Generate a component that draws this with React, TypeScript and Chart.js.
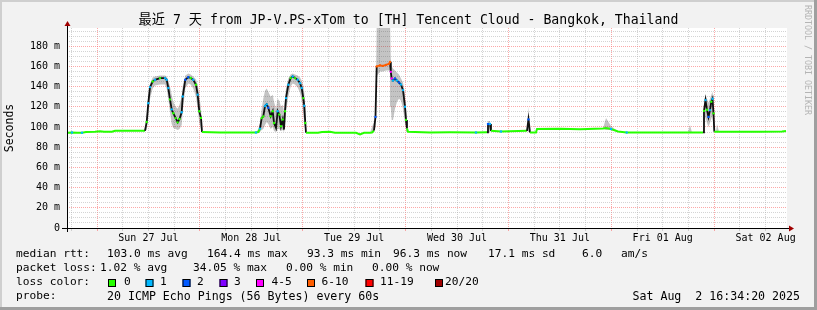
import React, { useEffect, useRef } from 'react';
import { Chart, registerables } from 'chart.js';

Chart.register(...registerables);

const TITLE = '最近 7 天 from JP-V.PS-xTom to [TH] Tencent Cloud - Bangkok, Thailand';
const Y_TITLE = 'Seconds';
const WATERMARK = 'RRDTOOL / TOBI OETIKER';

// x axis: hours since Sat 26 Jul 00:00
const X_MIN = 17;
const X_MAX = 185;
const DAY_LABELS = ['Sun 27 Jul', 'Mon 28 Jul', 'Tue 29 Jul', 'Wed 30 Jul', 'Thu 31 Jul', 'Fri 01 Aug', 'Sat 02 Aug'];
const Y_MAX = 198;
const Y_LABELED = [0, 20, 40, 60, 80, 100, 120, 140, 160, 180];

const HOURS = [
  17.0, 18.17, 19.33, 20.5, 21.43, 23.53, 24.7, 25.63, 27.5, 28.2, 35.2,
  35.6, 35.97, 36.37, 36.99, 37.53, 38.7, 39.87, 40.26, 40.64, 41.03, 41.43, 41.8, 42.36, 42.83, 43.25, 43.76, 44.0, 44.6, 45.3, 45.86, 46.46, 47.1, 47.49, 47.87, 48.27, 48.5,
  52.7, 57.37, 61.1, 61.64,
  62.03, 62.43, 62.8, 63.2, 63.6, 63.97, 64.53, 65.0, 65.3, 65.77, 66.16, 66.54, 66.93, 67.33, 67.63, 67.87, 68.1, 68.64, 69.19, 69.66, 70.2, 70.83, 71.37, 71.76, 72.14, 72.37, 72.6, 72.77,
  75.57, 76.5, 78.37, 79.53, 84.43, 85.37, 86.3, 87.7, 88.17, 88.63, 88.98,
  89.26, 90.03, 90.73, 91.43, 92.13, 92.37, 92.55, 92.76, 93.07, 93.53, 94.0, 94.47, 94.93, 95.4, 95.87, 96.1, 96.33, 96.57,
  101.7, 106.37, 112.43, 115.0, 115.23, 115.7, 115.93, 118.27, 124.33, 124.68, 125.03, 126.43, 126.67, 132.03, 136.7, 142.07, 142.77, 143.93, 145.57, 147.59, 153.03, 161.9, 162.37, 162.83, 165.4,
  165.63, 165.98, 166.33, 166.68, 167.03, 167.34, 167.62, 167.85, 168.04, 168.43, 168.67, 169.13, 178.7, 183.83, 184.77,
];

const MEDIAN = [
  94.3, 94.5, 94.3, 94.3, 95.0, 95.2, 95.8, 95.2, 95.3, 96.3, 96.3,
  105, 123.6, 139.5, 145, 146.7, 148.4, 148.4, 146.7, 138.6, 127.3, 117.4, 113.6, 108.8, 104.6, 108, 114.6, 130.2, 146.7, 149.3, 148.5, 146.7, 141.8, 132, 115.6, 109, 95,
  94.5, 94.5, 94.6, 95,
  98.4, 108.8, 110.5, 120.8, 122.4, 119.1, 110.6, 115.6, 104, 99.2, 115.6, 112.3, 100.7, 107.4, 97.5, 115.6, 128.6, 141.8, 148.4, 150, 148.4, 146.7, 143.4, 138.6, 128.6, 121, 104, 94.3,
  94.3, 95.0, 95.2, 94.3, 94.3, 92.7, 94.3, 94.4, 94.5, 96.5, 110,
  160, 161, 160.5, 161.5, 162.5, 164.4, 154.6, 148, 146, 148, 146, 144, 142, 136.5, 120, 107, 98.6, 95.3,
  94.6, 94.8, 94.6, 94.8, 103, 103, 96.2, 95.5, 96.2, 107.5, 94.6, 94.6, 98, 98.3, 97.8, 98.5, 99, 98, 95.5, 94.6, 94.6, 94.6, 94.6, 94.6, 94.6,
  116, 126.6, 117, 110, 116.7, 125, 128, 113.5, 95.3, 95.3, 95.3, 95.3, 95.3, 95.5, 96,
];

// index into LOSS_COLORS
const LOSS = [
  0, 1, 0, 1, 0, 0, 0, 0, 0, 0, 0,
  0, 1, 1, 0, 1, 0, 1, 1, 1, 0, 1, 0, 0, 0, 0, 1, 1, 2, 2, 0, 1, 0, 1, 0, 0, 0,
  0, 0, 1, 0,
  1, 0, 0, 1, 1, 2, 0, 0, 0, 0, 1, 0, 0, 0, 0, 0, 1, 1, 0, 1, 0, 1, 1, 1, 0, 1, 0, 0,
  0, 0, 0, 0, 0, 0, 0, 0, 0, 0, 2,
  5, 5, 5, 5, 5, 5, 4, 4, 1, 2, 1, 2, 1, 1, 1, 0, 0, 0,
  0, 0, 1, 0, 2, 1, 0, 1, 0, 2, 0, 0, 0, 0, 0, 0, 0, 1, 0, 1, 0, 0, 0, 0, 0,
  0, 1, 0, 2, 1, 0, 1, 0, 0, 0, 0, 0, 0, 0, 0,
];

const SMOKE_HI = [
  94.3, 94.5, 94.3, 94.3, 95.0, 95.2, 95.8, 95.2, 95.3, 96.3, 96.3,
  108, 128, 143, 149, 150, 151, 151, 150, 146, 140, 132, 125, 120, 118, 122, 130, 140, 151, 153, 152, 150, 147, 142, 132, 118, 95,
  94.5, 94.5, 94.6, 98,
  104, 118, 128, 136, 138, 135, 130, 132, 125, 118, 128, 126, 120, 122, 115, 128, 138, 148, 152, 153, 152, 151, 149, 146, 141, 134, 118, 94.3,
  94.3, 95.0, 95.2, 94.3, 94.3, 92.7, 94.3, 94.4, 100, 105, 112,
  200, 205, 205, 205, 205, 205, 168, 160, 158, 156, 154, 152, 148, 144, 132, 118, 104, 95.3,
  94.6, 94.8, 94.6, 94.8, 106, 106, 96.2, 95.5, 96.2, 120, 94.6, 94.6, 98, 98.3, 97.8, 98.5, 109, 101, 95.5, 94.6, 94.6, 94.6, 102, 94.6, 94.6,
  122, 132, 128, 124, 128, 132, 135, 126, 95.3, 95.3, 103, 95.3, 95.3, 95.5, 96,
];

const SMOKE_LO = [
  94.3, 94.5, 94.3, 94.3, 95.0, 95.2, 95.8, 95.2, 95.3, 96.3, 96.3,
  97, 110, 128, 138, 141, 142, 142, 138, 128, 115, 103, 99, 98, 97, 98, 102, 115, 138, 143, 142, 138, 130, 118, 104, 98, 95,
  94.5, 94.5, 94.6, 94,
  95, 97, 98, 102, 105, 103, 98, 100, 96, 95, 98, 98, 96, 97, 95, 100, 115, 130, 140, 143, 142, 139, 134, 126, 112, 104, 96, 94.3,
  94.3, 95.0, 95.2, 94.3, 94.3, 92.7, 94.3, 94.4, 94, 95, 100,
  150, 155, 155, 156, 156, 156, 120, 107, 107, 118, 125, 128, 126, 118, 104, 98, 95, 95.3,
  94.6, 94.8, 94.6, 94.8, 95, 95, 96.2, 95.5, 96.2, 95, 94.6, 94.6, 98, 98.3, 97.8, 98.5, 97, 97, 95.5, 94.6, 94.6, 94.6, 94, 94.6, 94.6,
  97, 110, 104, 100, 104, 108, 112, 98, 95.3, 95.3, 95, 95.3, 95.3, 95.5, 96,
];

const LOSS_COLORS = ['#26ff00', '#00b8ff', '#0059ff', '#7e00ff', '#ff00ff', '#ff5e00', '#ff0000', '#a00000'];
const LOSS_LABELS = ['0', '1', '2', '3', '4-5', '6-10', '11-19', '20/20'];

const ROW_LABELS = ['median rtt:', 'packet loss:', 'loss color:', 'probe:'];
const RTT_STATS = ['103.0 ms avg', '164.4 ms max', '93.3 ms min', '96.3 ms now', '17.1 ms sd', '6.0', 'am/s'];
const LOSS_STATS = ['1.02 % avg', '34.05 % max', '0.00 % min', '0.00 % now'];
const PROBE = '20 ICMP Echo Pings (56 Bytes) every 60s';
const STAMP = 'Sat Aug  2 16:34:20 2025';

const MONO = '"DejaVu Sans Mono", "Noto Sans CJK SC", monospace';

const framePlugin = {
  id: 'rrdframe',
  beforeDraw(chart: any) {
    const { ctx, width, height, chartArea: a } = chart;
    ctx.save();
    ctx.fillStyle = '#f2f2f2';
    ctx.fillRect(0, 0, width, height);
    ctx.fillStyle = '#cfcfcf';
    ctx.fillRect(0, 0, width, 2);
    ctx.fillRect(0, 0, 2, height);
    ctx.fillStyle = '#9f9f9f';
    ctx.fillRect(width - 3, 0, 3, height);
    ctx.fillRect(0, height - 3, width, 3);
    ctx.fillStyle = '#ffffff';
    ctx.fillRect(a.left, a.top, a.right - a.left, a.bottom - a.top);
    ctx.restore();
  },
  afterDraw(chart: any) {
    const { ctx, width, chartArea: a } = chart;
    ctx.save();
    // axes
    ctx.strokeStyle = '#000';
    ctx.lineWidth = 1;
    ctx.beginPath();
    ctx.moveTo(a.left - 5, a.bottom + 0.5);
    ctx.lineTo(a.right + 3, a.bottom + 0.5);
    ctx.moveTo(a.left + 0.5, a.bottom + 4);
    ctx.lineTo(a.left + 0.5, a.top - 3);
    ctx.stroke();
    ctx.fillStyle = '#a00000';
    ctx.beginPath();
    ctx.moveTo(a.right + 2, a.bottom - 2.5);
    ctx.lineTo(a.right + 7, a.bottom + 0.5);
    ctx.lineTo(a.right + 2, a.bottom + 3.5);
    ctx.closePath();
    ctx.fill();
    ctx.beginPath();
    ctx.moveTo(a.left - 2.5, a.top - 2);
    ctx.lineTo(a.left + 0.5, a.top - 7);
    ctx.lineTo(a.left + 3.5, a.top - 2);
    ctx.closePath();
    ctx.fill();

    // title
    ctx.fillStyle = '#000';
    ctx.font = `13.2px ${MONO}`;
    ctx.textAlign = 'center';
    ctx.textBaseline = 'middle';
    ctx.fillText(TITLE, width / 2, 21);

    // watermark
    ctx.save();
    ctx.translate(807, 60);
    ctx.rotate(Math.PI / 2);
    ctx.font = `8.3px ${MONO}`;
    ctx.fillStyle = '#b4b4b4';
    ctx.fillText(WATERMARK, 0, 0);
    ctx.restore();

    // legend
    const rows = [254.5, 268.5, 282.5, 296.5];
    ctx.font = `11.2px ${MONO}`;
    ctx.textAlign = 'left';
    ctx.fillStyle = '#000';
    ROW_LABELS.forEach((t, i) => ctx.fillText(t, 16, rows[i]));
    const rttX = [107, 207, 307, 393, 488, 582, 621];
    RTT_STATS.forEach((t, i) => ctx.fillText(t, rttX[i], rows[0]));
    const lossX = [100, 193, 286, 372];
    LOSS_STATS.forEach((t, i) => ctx.fillText(t, lossX[i], rows[1]));
    const boxX = [108, 145.5, 182.5, 219.5, 256, 307, 365.5, 435];
    const lblX = [124, 160, 197, 234, 271.5, 321.5, 380, 445];
    ctx.lineWidth = 1;
    LOSS_LABELS.forEach((t, i) => {
      const top = Math.round(rows[2] - 4);
      ctx.fillStyle = LOSS_COLORS[i];
      ctx.fillRect(boxX[i], top, 8, 8);
      ctx.strokeStyle = '#000';
      ctx.strokeRect(boxX[i] + 0.5, top + 0.5, 7, 7);
      ctx.fillStyle = '#000';
      ctx.fillText(t, lblX[i], rows[2]);
    });
    ctx.font = `11.6px ${MONO}`;
    ctx.fillText(PROBE, 107, rows[3]);
    ctx.textAlign = 'right';
    ctx.fillText(STAMP, 800, rows[3]);
    ctx.restore();
  },
};

export default function App() {
  const ref = useRef<HTMLCanvasElement>(null);
  useEffect(() => {
    const toPts = (ys: number[]) => HOURS.map((h, i) => ({ x: h, y: ys[i] }));
    const elevated = (c: any) => Math.max(c.p0.parsed.y, c.p1.parsed.y) > 100;
    const chart = new Chart(ref.current!, {
      type: 'line',
      data: {
        datasets: [
          {
            label: 'median',
            data: toPts(MEDIAN),
            order: 0,
            borderWidth: 2,
            borderColor: LOSS_COLORS[0],
            fill: false,
            tension: 0,
            pointRadius: (c: any) => {
              const i = c.dataIndex;
              return LOSS[i] > 0 || MEDIAN[i] > 100 ? 1.2 : 0;
            },
            pointBackgroundColor: (c: any) => LOSS_COLORS[LOSS[c.dataIndex]] ?? LOSS_COLORS[0],
            pointBorderWidth: 0,
            pointHoverRadius: 0,
            segment: {
              borderColor: (c: any) => {
                const a = LOSS[c.p0DataIndex];
                const b = LOSS[c.p1DataIndex];
                if (a >= 5 && b >= 5) return LOSS_COLORS[b];
                if (elevated(c)) return '#111111';
                return LOSS_COLORS[0];
              },
              borderWidth: (c: any) => (elevated(c) ? 1.8 : 2),
            },
          } as any,
          {
            label: 'smokeHi',
            data: toPts(SMOKE_HI),
            order: 1,
            fill: '+1',
            backgroundColor: 'rgba(60,60,60,0.3)',
            borderColor: 'transparent',
            borderWidth: 0,
            pointRadius: 0,
            tension: 0,
          },
          {
            label: 'smokeLo',
            data: toPts(SMOKE_LO),
            order: 2,
            fill: false,
            borderColor: 'transparent',
            borderWidth: 0,
            pointRadius: 0,
            tension: 0,
          },
        ],
      },
      options: {
        responsive: false,
        animation: false,
        devicePixelRatio: 1,
        layout: { padding: { top: 28, right: 30, bottom: 0, left: 0 } },
        plugins: {
          legend: { display: false },
          tooltip: { enabled: false },
          title: { display: false },
        },
        events: [],
        scales: {
          x: {
            type: 'linear',
            min: X_MIN,
            max: X_MAX,
            afterBuildTicks: (scale: any) => {
              const t = [];
              for (let h = 18; h < X_MAX; h += 6) t.push({ value: h });
              scale.ticks = t;
            },
            afterFit: (scale: any) => {
              scale.height = 82;
            },
            ticks: {
              autoSkip: false,
              maxRotation: 0,
              minRotation: 0,
              padding: 1,
              color: '#000',
              font: { family: MONO, size: 10 },
              callback: (v: any) => {
                const h = Math.round(Number(v));
                if ((h - 12) % 24 !== 0) return '';
                return DAY_LABELS[(h - 36) / 24] ?? '';
              },
            },
            grid: {
              drawTicks: true,
              tickLength: 3,
              lineWidth: 1,
              color: (c: any) => (Math.round(c.tick.value) % 24 === 0 ? 'rgba(250,110,110,0.6)' : 'rgba(170,170,170,0.5)'),
            },
            border: { display: false, dash: [1, 1] },
          },
          y: {
            type: 'linear',
            min: 0,
            max: Y_MAX,
            afterBuildTicks: (scale: any) => {
              const t = [];
              for (let v = 0; v < Y_MAX; v += 5) t.push({ value: v });
              scale.ticks = t;
            },
            afterFit: (scale: any) => {
              scale.width = 67;
            },
            title: {
              display: true,
              text: Y_TITLE,
              color: '#000',
              font: { family: MONO, size: 11.5 },
              padding: { top: 3, bottom: 0 },
            },
            ticks: {
              autoSkip: false,
              padding: 7,
              color: '#000',
              font: { family: MONO, size: 10 },
              callback: (v: any) => {
                const n = Math.round(Number(v));
                if (!Y_LABELED.includes(n)) return '';
                return n === 0 ? '0' : `${n} m`;
              },
            },
            grid: {
              drawTicks: false,
              lineWidth: 1,
              color: (c: any) => (Math.round(c.tick.value) % 20 === 0 ? 'rgba(250,110,110,0.6)' : 'rgba(170,170,170,0.5)'),
            },
            border: { display: false, dash: [1, 1] },
          },
        },
      } as any,
      plugins: [framePlugin],
    });
    return () => chart.destroy();
  }, []);
  return (
    <div style={{ position: 'fixed', left: 0, top: 0, width: 817, height: 310 }}>
      <canvas ref={ref} width={817} height={310} style={{ display: 'block', width: 817, height: 310 }} />
    </div>
  );
}
